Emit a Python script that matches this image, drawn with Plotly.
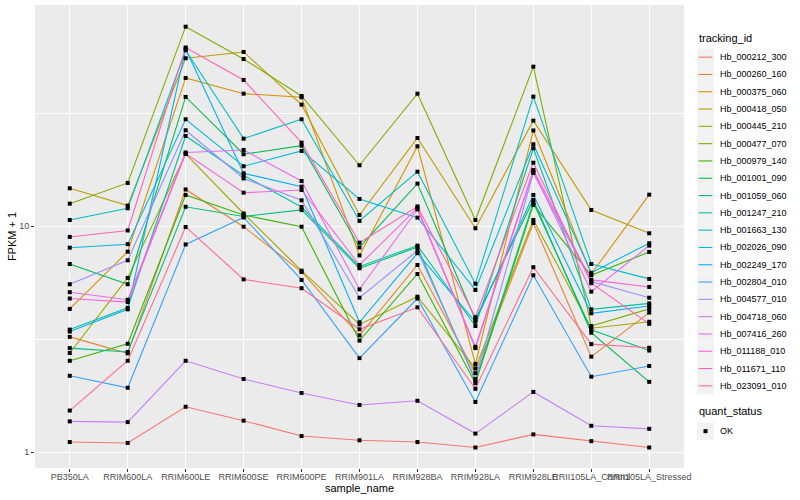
import plotly.graph_objects as go

samples = ["PB350LA", "RRIM600LA", "RRIM600LE", "RRIM600SE", "RRIM600PE", "RRIM901LA",
           "RRIM928BA", "RRIM928LA", "RRIM928LE", "RRII105LA_Control", "RRII105LA_Stressed"]

tracking_ids = ["Hb_000212_300", "Hb_000260_160", "Hb_000375_060", "Hb_000418_050", "Hb_000445_210",
                "Hb_000477_070", "Hb_000979_140", "Hb_001001_090", "Hb_001059_060", "Hb_001247_210",
                "Hb_001663_130", "Hb_002026_090", "Hb_002249_170", "Hb_002804_010", "Hb_004577_010",
                "Hb_004718_060", "Hb_007416_260", "Hb_011188_010", "Hb_011671_110", "Hb_023091_010"]

colors = ["#F8766D", "#EA8331", "#D89000", "#C09B00", "#A3A500", "#7CAE00", "#39B600", "#00BB4E",
          "#00BF7D", "#00C1A3", "#00BFC4", "#00BAE0", "#00B0F6", "#35A2FF", "#9590FF", "#C77CFF",
          "#E76BF3", "#FA62DB", "#FF62BC", "#FF6C91"]

quant_status = ["OK"]

# FPKM + 1 per tracking id, in sample order
Hb_000212_300 = [1.11, 1.10, 1.59, 1.38, 1.18, 1.13, 1.11, 1.05, 1.20, 1.12, 1.05]
Hb_000260_160 = [3.24, 2.74, 14.55, 9.96, 6.28, 3.29, 6.74, 2.24, 10.34, 2.65, 4.15]
Hb_000375_060 = [4.31, 7.72, 45.32, 38.61, 37.23, 7.43, 22.59, 2.46, 26.54, 6.15, 13.80]
Hb_000418_050 = [14.73, 12.34, 55.39, 59.05, 34.52, 11.22, 24.59, 9.80, 29.33, 11.81, 9.31]
Hb_000445_210 = [2.75, 5.91, 20.89, 11.39, 6.36, 3.68, 4.88, 2.35, 10.66, 3.54, 3.78]
Hb_000477_070 = [12.59, 15.55, 76.4, 54.99, 37.72, 18.62, 38.61, 10.66, 50.84, 3.62, 4.31]
Hb_000979_140 = [2.54, 3.02, 13.76, 11.22, 9.96, 3.12, 6.15, 2.02, 12.43, 6.07, 7.70]
Hb_001001_090 = [6.81, 5.54, 37.34, 20.83, 22.73, 8.06, 15.44, 3.87, 13.07, 3.38, 2.05]
Hb_001059_060 = [2.89, 2.78, 12.2, 11.05, 11.81, 6.52, 8.08, 2.07, 12.75, 3.48, 2.82]
Hb_001247_210 = [3.49, 4.36, 25.09, 16.78, 12.17, 6.64, 8.21, 3.62, 22.14, 4.29, 4.56]
Hb_001663_130 = [10.66, 12.01, 60.08, 24.42, 29.75, 10.56, 17.44, 5.57, 37.46, 6.81, 5.85]
Hb_002026_090 = [8.04, 8.33, 29.75, 18.43, 21.54, 13.21, 10.92, 5.23, 23.06, 6.23, 8.41]
Hb_002249_170 = [3.42, 4.29, 60.87, 17.16, 14.97, 3.76, 7.60, 3.78, 13.76, 4.12, 4.44]
Hb_002804_010 = [2.18, 1.93, 8.31, 10.94, 5.79, 2.61, 4.79, 1.67, 6.07, 2.16, 2.41]
Hb_004577_010 = [5.54, 7.07, 26.6, 16.28, 13.03, 4.83, 7.80, 2.11, 17.21, 5.69, 4.83]
Hb_004718_060 = [1.37, 1.36, 2.54, 2.11, 1.83, 1.62, 1.69, 1.21, 1.85, 1.31, 1.27]
Hb_007416_260 = [5.11, 4.73, 21.21, 21.76, 15.86, 5.26, 11.87, 2.89, 17.48, 5.14, 8.21]
Hb_011188_010 = [4.79, 4.62, 20.99, 14.08, 14.47, 6.74, 12.05, 2.93, 17.75, 5.79, 5.39]
Hb_011671_110 = [8.97, 9.58, 61.82, 44.4, 23.44, 8.46, 12.24, 3.96, 19.11, 5.60, 3.70]
Hb_023091_010 = [1.53, 2.54, 9.93, 5.82, 5.32, 3.50, 4.38, 1.91, 6.59, 3.01, 2.90]

series = [Hb_000212_300, Hb_000260_160, Hb_000375_060, Hb_000418_050, Hb_000445_210,
          Hb_000477_070, Hb_000979_140, Hb_001001_090, Hb_001059_060, Hb_001247_210,
          Hb_001663_130, Hb_002026_090, Hb_002249_170, Hb_002804_010, Hb_004577_010,
          Hb_004718_060, Hb_007416_260, Hb_011188_010, Hb_011671_110, Hb_023091_010]

FONT = "Liberation Sans, Arial, sans-serif"
W, H = 800, 500
ML, MR, MT, MB = 35, 116, 5, 32
PW, PH = W - ML - MR, H - MT - MB

fig = go.Figure()

for tid, col, vals in zip(tracking_ids, colors, series):
    fig.add_trace(go.Scatter(x=samples, y=vals, mode="lines", name=tid,
                             line=dict(color=col, width=1.1), showlegend=False,
                             hoverinfo="skip"))

all_x, all_y = [], []
for vals in series:
    all_x += samples
    all_y += vals
fig.add_trace(go.Scatter(x=all_x, y=all_y, mode="markers", name="OK", showlegend=False,
                         marker=dict(symbol="square", size=4, color="black")))

# ---- ggplot-style legends (drawn in paper space) ----
def px_x(p):
    return (p - ML) / PW

def px_y(p):
    return (H - MB - p) / PH

shapes, annos = [], []
key_left, key_w, key_h, text_x = 697, 17, 17.3, 718
annos.append(dict(x=px_x(key_left), y=px_y(38), xref="paper", yref="paper", text="tracking_id",
                  showarrow=False, xanchor="left", yanchor="middle",
                  font=dict(size=11, color="black", family=FONT)))
top0 = 48.5
for i, (tid, col) in enumerate(zip(tracking_ids, colors)):
    y0 = top0 + i * key_h
    yc = y0 + key_h / 2
    shapes.append(dict(type="rect", xref="paper", yref="paper", x0=px_x(key_left), x1=px_x(key_left + key_w),
                       y0=px_y(y0 + key_h), y1=px_y(y0), fillcolor="#F2F2F2", line=dict(width=0), layer="below"))
    shapes.append(dict(type="line", xref="paper", yref="paper", x0=px_x(key_left + 1.7), x1=px_x(key_left + key_w - 1.7),
                       y0=px_y(yc), y1=px_y(yc), line=dict(color=col, width=1.1)))
    annos.append(dict(x=px_x(text_x), y=px_y(yc), xref="paper", yref="paper", text=tid, showarrow=False,
                      xanchor="left", yanchor="middle", font=dict(size=9, color="black", family=FONT)))

annos.append(dict(x=px_x(key_left), y=px_y(411), xref="paper", yref="paper", text="quant_status",
                  showarrow=False, xanchor="left", yanchor="middle",
                  font=dict(size=11, color="black", family=FONT)))
for j, qs in enumerate(quant_status):
    y0 = 422.5 + j * key_h
    yc = y0 + key_h / 2
    shapes.append(dict(type="rect", xref="paper", yref="paper", x0=px_x(key_left), x1=px_x(key_left + key_w),
                       y0=px_y(y0 + key_h), y1=px_y(y0), fillcolor="#F2F2F2", line=dict(width=0), layer="below"))
    shapes.append(dict(type="rect", xref="paper", yref="paper", x0=px_x(key_left + key_w / 2 - 2),
                       x1=px_x(key_left + key_w / 2 + 2), y0=px_y(yc + 2), y1=px_y(yc - 2),
                       fillcolor="black", line=dict(width=0)))
    annos.append(dict(x=px_x(text_x), y=px_y(yc), xref="paper", yref="paper", text=qs, showarrow=False,
                      xanchor="left", yanchor="middle", font=dict(size=9, color="black", family=FONT)))

fig.update_layout(
    width=W, height=H,
    margin=dict(l=ML, r=MR, t=MT, b=MB, autoexpand=False),
    paper_bgcolor="white", plot_bgcolor="#EBEBEB",
    font=dict(family=FONT, size=9, color="#4D4D4D"),
    showlegend=False,
    shapes=shapes, annotations=annos,
    xaxis=dict(type="category", categoryorder="array", categoryarray=samples,
               range=[-0.6, 10.6], showgrid=True, gridcolor="white", gridwidth=1.1,
               ticks="outside", ticklen=3, tickcolor="#333333", tickangle=0,
               tickfont=dict(size=9, color="#4D4D4D"), zeroline=False, showline=False,
               automargin=False, ticklabelstandoff=-3,
               title=dict(text="sample_name", font=dict(size=11, color="black"), standoff=0)),
    yaxis=dict(type="log", range=[-0.0695, 1.979], tickvals=[1, 10], ticktext=["1", "10"],
               showgrid=True, gridcolor="white", gridwidth=1.1,
               minor=dict(tickvals=[3.1623, 31.623], showgrid=True, gridcolor="white",
                          gridwidth=0.55, ticks=""),
               ticks="outside", ticklen=3, tickcolor="#333333", automargin=False,
               tickfont=dict(size=9, color="#4D4D4D"), zeroline=False, showline=False,
               title=dict(text="FPKM + 1", font=dict(size=11, color="black"), standoff=0)),
)

fig.write_html("out.html", config={"displayModeBar": False},
               post_script="document.body.style.margin='0';")
